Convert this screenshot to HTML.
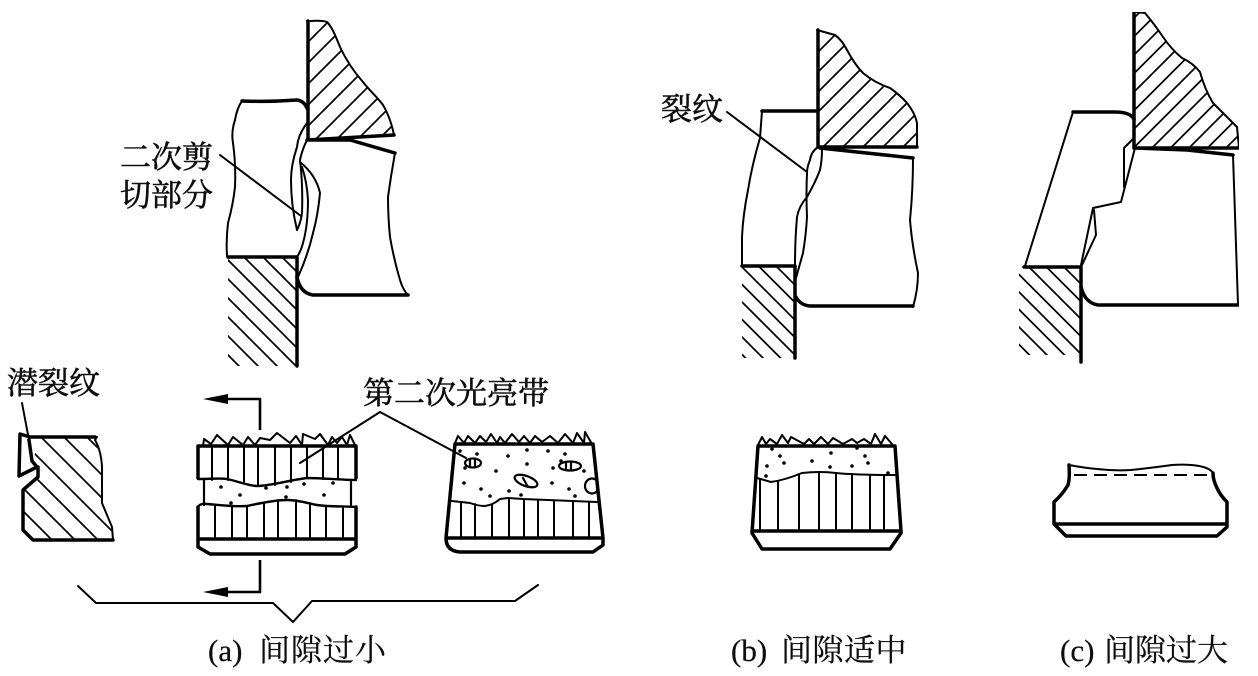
<!DOCTYPE html>
<html><head><meta charset="utf-8"><style>
html,body{margin:0;padding:0;background:#fff}
svg{display:block}
text{font-family:"Liberation Serif","Noto Serif CJK SC",serif;font-size:31px;fill:#111;stroke:#111;stroke-width:.25px}
text.b{stroke-width:.6px}
.k{fill:none;stroke:#000;stroke-width:3.5;stroke-linejoin:round;stroke-linecap:round}
.t{fill:none;stroke:#000;stroke-width:2;stroke-linejoin:round;stroke-linecap:round}
.h{stroke:#000;stroke-width:1.7;fill:none}
.d{fill:#000}
</style></head><body>
<svg width="1258" height="676" viewBox="0 0 1258 676" xmlns="http://www.w3.org/2000/svg">
<defs>
<filter id="s" x="0" y="0" width="100%" height="100%"><feGaussianBlur stdDeviation="0.35"/></filter>
<pattern id="u1" width="21" height="21" patternUnits="userSpaceOnUse" x="0" y="14"><path class="h" d="M-2 2L2 -2M0 21L21 0M19 23L23 19"/></pattern>
<pattern id="u2" width="20" height="20" patternUnits="userSpaceOnUse" x="10" y="0"><path class="h" d="M-2 2L2 -2M0 20L20 0M18 22L22 18"/></pattern>
<pattern id="u3" width="18.5" height="18.5" patternUnits="userSpaceOnUse" x="5" y="0"><path class="h" d="M-2 2L2 -2M0 18.5L18.5 0M16.5 20.5L20.5 16.5"/></pattern>
<pattern id="d1" width="19" height="19" patternUnits="userSpaceOnUse" x="0" y="13"><path class="h" d="M0 0L19 19M-2 17L2 21M17 -2L21 2"/></pattern>
<pattern id="d2" width="17.5" height="17.5" patternUnits="userSpaceOnUse" x="0" y="-475"><path class="h" d="M0 0L17.5 17.5M-2 15.5L2 19.5M15.5 -2L19.5 2"/></pattern>
<pattern id="d3" width="17.5" height="17.5" patternUnits="userSpaceOnUse" x="762" y="0"><path class="h" d="M0 0L17.5 17.5M-2 15.5L2 19.5M15.5 -2L19.5 2"/></pattern>
<pattern id="d4" width="23" height="23" patternUnits="userSpaceOnUse" x="0" y="396"><path class="h" d="M0 0L23 23M-2 21L2 25M21 -2L25 2"/></pattern>
<clipPath id="cr"><path d="M446 444H593L603 538H446Z"/></clipPath>
</defs>
<g filter="url(#s)">
<!-- (a) upper -->
<path d="M307 21C315 21 322 20 327 22C333 28 337 40 340 47C347 62 355 73 363 82C370 91 377 97 383 105C389 115 392 125 394 135L307 140Z" fill="url(#u1)"/>
<path class="t" d="M307 21C315 21 322 20 327 22C333 28 337 40 340 47C347 62 355 73 363 82C370 91 377 97 383 105C389 115 392 125 394 135"/>
<path class="k" d="M308 21V140M394 135L307 140L350 140L395 153"/>
<rect x="228" y="257" width="69" height="109" fill="url(#d1)"/>
<path class="k" d="M228 257H297V366"/>
<path class="k" d="M242 101Q270 102 297 100Q304 101 307 108"/>
<path class="t" d="M242 101Q237 108 235 120Q231 132 233 143Q236 165 235 187Q233 205 228 223Q226 240 227 256"/>
<path class="t" d="M395 153Q391 175 388 197Q388 217 390 237Q394 260 400 280Q403 290 408 295"/>
<path class="k" d="M408 295H313Q300 293 297 277"/>
<path class="t" d="M307 123Q298 135 297 147Q291 165 291 180Q291 205 297 230Q301 222 302 213Q303 185 300 160Q302 150 307 140"/>
<path class="t" d="M300 162Q316 175 320 193Q318 215 313 233Q308 255 298 277M302 167Q307 182 308 200Q308 225 303 243Q301 251 297 257"/>
<path class="t" d="M220 155L301 216"/>
<text class="b" x="120" y="168">二次剪</text>
<text class="b" x="120" y="206">切部分</text>

<!-- (a) lower left part -->
<path d="M38 438H95L102 467V503L112 527L113 540H33L23 530V490L38 477V467L33 463Z" fill="url(#d4)"/>
<path class="k" d="M30 437L20 434L19 476L37 467L32 461L29 440M30 437H95"/>
<path class="k" d="M38 467V477L23 490V530L33 540H113"/>
<path class="t" d="M113 540L112 527L102 503V467Q101 450 95 440L97 437"/>
<path class="t" d="M22 403L29 440"/>
<text class="b" x="7" y="394">潜裂纹</text>

<!-- (a) lower mid block -->
<path class="t" d="M203 446L204 439L211 444L217 435L228 445L233 437L243 445L248 437L255 445L260 438L270 440L277 433L290 443L296 436L302 445L303 434L315 439L320 434L328 445L332 437L337 443L342 437L347 445L350 435L355 445"/>
<path class="k" d="M198 446H356V478M198 446V478"/>
<path class="k" style="stroke-width:2.4" d="M198 479C210 479 220 478 227 479C240 482 250 486 257 486C270 486 290 480 307 478C320 478 345 480 356 480"/>
<path class="t" d="M212 447V480M228 447V480M244 447V482M258 447V486M275 447V485M291 447V482M307 447V478M323 447V479M338 447V479"/>
<path class="k" d="M204 480V505M351 480V505" style="stroke-width:2.2"/>
<path class="k" d="M198 507Q200 503 207 504C220 505 235 507 247 506C265 502 280 500 287 500C300 500 310 504 317 505C330 507 345 506 356 507" style="stroke-width:2.4"/>
<path class="t" d="M215 506V539M232 507V539M247 506V539M264 503V539M278 501V539M296 500V539M310 503V539M326 506V539M343 507V539"/>
<path class="k" d="M198 507V547L210 554H345L356 547V507M198 539H356"/>
<g class="d"><circle cx="221" cy="487" r="1.8"/><circle cx="240" cy="495" r="1.8"/><circle cx="231" cy="503" r="1.8"/><circle cx="266" cy="488" r="1.8"/><circle cx="287" cy="487" r="1.8"/><circle cx="304" cy="484" r="1.8"/><circle cx="333" cy="483" r="1.8"/><circle cx="324" cy="495" r="1.8"/><circle cx="286" cy="497" r="1.8"/></g>
<path class="k" d="M260 430V399H225M260 560V592H225" style="stroke-width:2.6;stroke-linecap:butt"/>
<path d="M203 399L228 394V404ZM203 592L228 587V597Z" fill="#000"/>
<path class="t" d="M300 463L380 412L466 458"/>
<text class="b" x="363" y="404">第二次光亮带</text>

<!-- (a) lower right block -->
<path class="t" d="M455 443L458 436L464 443L468 436L475 443L480 436L486 442L491 434L497 443L500 437L505 443L512 434L519 442L524 436L530 443L535 436L542 442L550 436L558 443L565 434L573 443L577 433L584 443L585 432L592 444"/>
<path class="k" d="M455 444H593L603 538V545L593 552H460Q446 551 446 538L455 444M446 538H603"/>
<path class="t" d="M452 501L470 503Q478 506 485 506Q493 505 500 499L508 498L523 499L597 502"/>
<path class="t" d="M461 502V538M475 504V538M492 505V538M509 498V538M524 500V538M538 500V538M554 501V538M573 501V538M589 502V538"/>
<g class="d"><circle cx="460" cy="451" r="1.8"/><circle cx="477" cy="454" r="1.8"/><circle cx="508" cy="456" r="1.8"/><circle cx="527" cy="450" r="1.8"/><circle cx="548" cy="451" r="1.8"/><circle cx="565" cy="454" r="1.8"/><circle cx="527" cy="464" r="1.8"/><circle cx="496" cy="471" r="1.8"/><circle cx="553" cy="468" r="1.8"/><circle cx="561" cy="461" r="1.8"/><circle cx="584" cy="471" r="1.8"/><circle cx="464" cy="483" r="1.8"/><circle cx="481" cy="489" r="1.8"/><circle cx="490" cy="496" r="1.8"/><circle cx="509" cy="491" r="1.8"/><circle cx="552" cy="483" r="1.8"/><circle cx="569" cy="489" r="1.8"/><circle cx="575" cy="496" r="1.8"/><circle cx="521" cy="495" r="1.8"/><circle cx="465" cy="468" r="1.8"/></g>
<g class="t" style="stroke-width:2.2">
<ellipse cx="473" cy="463" rx="8" ry="4.5"/><path d="M470 459V467M475 459V467"/>
<ellipse cx="570" cy="466" rx="11" ry="4.5"/><path d="M566 462V470M571 462V470"/>
<ellipse cx="526" cy="481" rx="12" ry="5" transform="rotate(20 526 481)"/><path d="M523 478L528 487"/>
<g clip-path="url(#cr)"><ellipse cx="592" cy="486" rx="7" ry="7.5"/></g>
</g>
<path class="t" d="M78 586L96 603H273L293 622L312 601H515L538 585"/>
<text x="208" y="661">(a)</text>
<text x="259" y="661" style="letter-spacing:1px">间隙过小</text>

<!-- (b) upper -->
<path d="M817 30L835 35Q842 40 847 50Q855 65 863 73Q875 83 890 88Q900 95 907 103Q915 113 917 123V147H817Z" fill="url(#u2)"/>
<path class="t" d="M817 30L835 35Q842 40 847 50Q855 65 863 73Q875 83 890 88Q900 95 907 103Q915 113 917 123V147"/>
<path class="k" d="M818 30V147H917M820 148L913 158M762 111H817"/>
<rect x="742" y="266" width="53" height="92" fill="url(#d2)"/>
<path class="k" d="M742 266H795V358"/>
<path class="t" d="M762 111L760 138Q752 165 748 190Q743 215 742 237V265"/>
<path class="t" d="M818 147Q811 152 810 160Q807 167 807 173Q806 195 807 217Q806 235 803 253L796 278M822 150Q822 160 820 170Q815 183 807 197Q799 206 797 217Q795 240 795 265"/>
<path class="t" d="M913 158Q913 190 910 220Q912 245 918 273Q918 290 913 307"/>
<path class="k" d="M913 306H810Q800 305 796 297"/>
<path class="t" d="M727 112L807 172"/>
<text class="b" x="661" y="120">裂纹</text>

<!-- (c) upper -->
<path d="M1134 12L1145 13Q1155 25 1163 37Q1172 50 1182 58Q1193 63 1200 72Q1205 90 1213 103Q1225 115 1237 127L1239 148H1134Z" fill="url(#u3)"/>
<path class="t" d="M1134 12L1145 13Q1155 25 1163 37Q1172 50 1182 58Q1193 63 1200 72Q1205 90 1213 103Q1225 115 1237 127L1239 148"/>
<path class="k" d="M1134 12V148H1239M1135 148L1187 150L1233 155"/>
<rect x="1019" y="267" width="62" height="88" fill="url(#d3)"/>
<path class="k" d="M1024 267H1081V362M1073 112L1115 112Q1130 112 1134 119"/>
<path class="t" d="M1073 112L1025 266M1134 138L1124 148V187M1135 148L1121 202L1093 208L1081 265M1094 210L1096 235L1082 265M1233 155L1238 305"/>
<path class="k" d="M1238 305H1098Q1085 303 1081 287"/>

<!-- (b) lower -->
<path class="t" d="M758 445L762 437L766 444L770 439L777 444L782 435L788 443L791 437L804 444L809 439L814 444L821 437L828 444L833 438L843 444L852 439L857 443L864 439L871 444L875 434L881 444L885 436L892 444"/>
<path class="k" d="M758 446H895L901 531V533L890 549H762L752 533L758 446M752 531H901"/>
<path class="t" d="M757 478L771 482Q785 480 802 473Q820 471 836 473Q856 475 895 475"/>
<path class="t" d="M760 479V531M778 482V531M799 474V531M819 472V531M836 473V531M852 475V531M870 475V531M884 475V531"/>
<g class="d"><circle cx="772" cy="449" r="1.8"/><circle cx="780" cy="456" r="1.8"/><circle cx="784" cy="463" r="1.8"/><circle cx="767" cy="466" r="1.8"/><circle cx="766" cy="476" r="1.8"/><circle cx="812" cy="461" r="1.8"/><circle cx="831" cy="453" r="1.8"/><circle cx="830" cy="467" r="1.8"/><circle cx="852" cy="466" r="1.8"/><circle cx="857" cy="448" r="1.8"/><circle cx="865" cy="456" r="1.8"/><circle cx="868" cy="463" r="1.8"/><circle cx="888" cy="473" r="1.8"/></g>
<text x="731" y="661">(b)</text>
<text x="781" y="661" style="letter-spacing:.5px">间隙适中</text>

<!-- (c) lower -->
<path class="t" d="M1069 465Q1085 468 1097 469Q1115 471 1131 470Q1150 468 1172 465Q1188 464 1199 466Q1210 468 1213 473"/>
<path class="k" d="M1069 465Q1070 478 1068 485Q1062 495 1054 502V524L1066 536H1217L1227 527V502Q1220 495 1217 488Q1213 480 1213 473M1056 524H1226"/>
<path class="t" d="M1074 475H1211" style="stroke-dasharray:13 7;stroke-linecap:butt"/>
<text x="1060" y="661">(c)</text>
<text x="1104" y="661">间隙过大</text>
</g>
</svg>
</body></html>
